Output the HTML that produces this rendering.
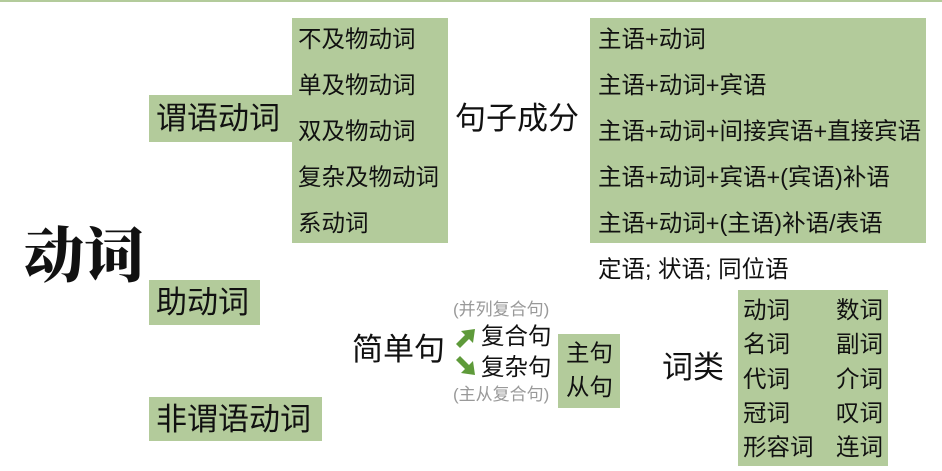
<!DOCTYPE html>
<html><head><meta charset="utf-8"><style>
*{margin:0;padding:0;box-sizing:border-box}
body{width:942px;height:471px;background:#fff;position:relative;overflow:hidden;font-family:"Liberation Sans","Noto Sans CJK SC",sans-serif;color:#111}
.a{position:absolute;white-space:nowrap}
.g{position:absolute;background:#b3cb9b}
.t22{font-size:23.5px;line-height:23.5px;margin-top:-1px}
.t28{font-size:31px;line-height:31px;margin-top:-1px}
.gr{color:#999;font-size:17px;line-height:17px}
</style></head><body>
<div class="a" style="left:0;top:0;width:942px;height:2px;background:#b3cb9b"></div>
<div class="a" style="left:24px;top:220px;font-family:'Noto Serif CJK SC',serif;font-weight:900;font-size:60px;line-height:64px">动词</div>

<div class="g" style="left:149px;top:95px;width:143px;height:47px"></div>
<div class="a t28" style="left:156px;top:104px">谓语动词</div>
<div class="g" style="left:292px;top:18px;width:156px;height:225px"></div>
<div class="a t22" style="left:298px;top:29px">不及物动词</div>
<div class="a t22" style="left:298px;top:75px">单及物动词</div>
<div class="a t22" style="left:298px;top:121px">双及物动词</div>
<div class="a t22" style="left:298px;top:167px">复杂及物动词</div>
<div class="a t22" style="left:298px;top:213px">系动词</div>

<div class="a t28" style="left:455px;top:104px">句子成分</div>
<div class="g" style="left:590px;top:18px;width:336px;height:225px"></div>
<div class="a t22" style="left:598px;top:29px">主语+动词</div>
<div class="a t22" style="left:598px;top:75px">主语+动词+宾语</div>
<div class="a t22" style="left:598px;top:121px">主语+动词+间接宾语+直接宾语</div>
<div class="a t22" style="left:598px;top:167px">主语+动词+宾语+(宾语)补语</div>
<div class="a t22" style="left:598px;top:213px">主语+动词+(主语)补语/表语</div>
<div class="a t22" style="left:598px;top:259px">定语; 状语; 同位语</div>

<div class="g" style="left:149px;top:280px;width:111px;height:45px"></div>
<div class="a t28" style="left:156px;top:288px">助动词</div>
<div class="g" style="left:149px;top:397px;width:173px;height:44px"></div>
<div class="a t28" style="left:156px;top:405px">非谓语动词</div>

<div class="a t28" style="left:352px;top:335px">简单句</div>
<div class="a gr" style="left:453px;top:301px">(并列复合句)</div>
<svg class="a" style="left:454px;top:326px" width="24" height="52" viewBox="0 0 24 52">
<path d="M2 18 L11 9 L7 5 L21 3 L19 17 L15 13 L6 22Z" fill="#5e9a3a"/>
<path d="M2 34 L11 43 L7 47 L21 49 L19 35 L15 39 L6 30Z" fill="#5e9a3a"/>
</svg>
<div class="a t22" style="left:481px;top:326px">复合句</div>
<div class="a t22" style="left:481px;top:357px">复杂句</div>
<div class="a gr" style="left:453px;top:386px">(主从复合句)</div>
<div class="g" style="left:558px;top:334px;width:62px;height:74px"></div>
<div class="a t22" style="left:566px;top:343px">主句</div>
<div class="a t22" style="left:566px;top:377px">从句</div>

<div class="a t28" style="left:662px;top:353px">词类</div>
<div class="g" style="left:738px;top:290px;width:150px;height:176px"></div>
<div class="a t22" style="left:743px;top:300px">动词</div>
<div class="a t22" style="left:743px;top:334px">名词</div>
<div class="a t22" style="left:743px;top:369px">代词</div>
<div class="a t22" style="left:743px;top:403px">冠词</div>
<div class="a t22" style="left:743px;top:437px">形容词</div>
<div class="a t22" style="left:836px;top:300px">数词</div>
<div class="a t22" style="left:836px;top:334px">副词</div>
<div class="a t22" style="left:836px;top:369px">介词</div>
<div class="a t22" style="left:836px;top:403px">叹词</div>
<div class="a t22" style="left:836px;top:437px">连词</div>
</body></html>
